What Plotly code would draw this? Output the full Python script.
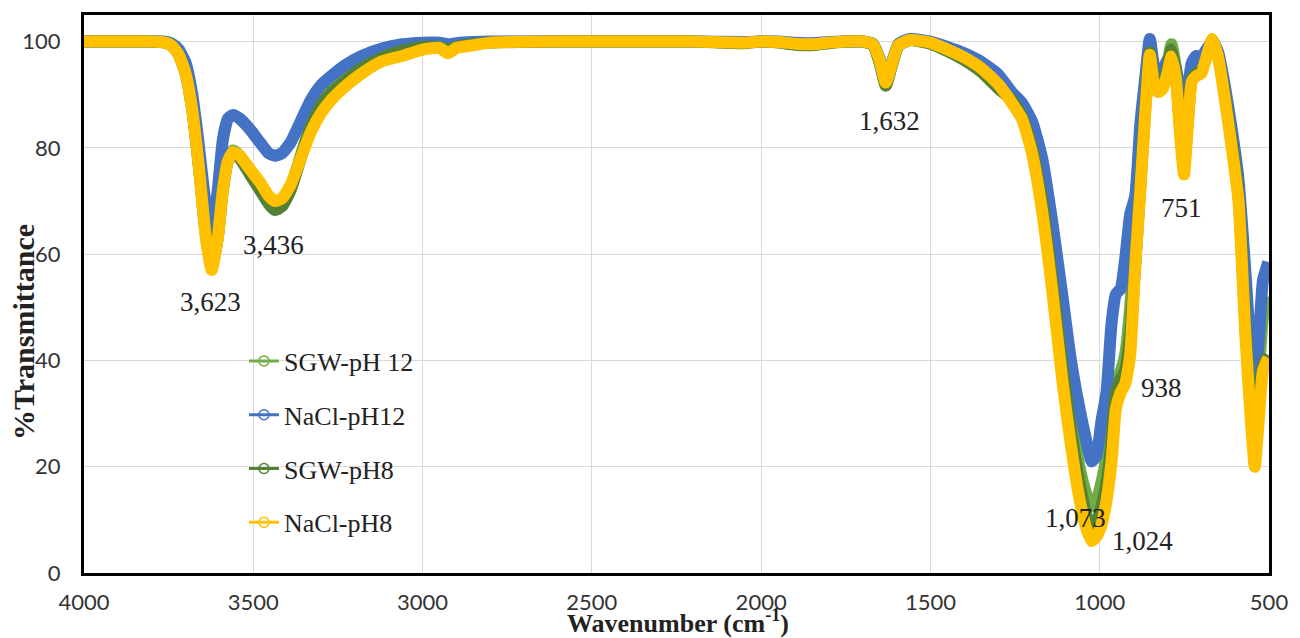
import plotly.graph_objects as go

# Wavenumber grid (cm-1), shared by all four spectra
wavenumber = [
    4000, 3800, 3760, 3740, 3720, 3700, 3680, 3660, 3640, 3623,
    3605, 3590, 3575, 3560, 3540, 3510, 3480, 3455, 3436, 3415,
    3390, 3360, 3330, 3300, 3270, 3230, 3180, 3120, 3060, 3000,
    2950, 2925, 2900, 2850, 2800, 2600, 2400, 2200, 2050, 2000,
    1950, 1900, 1850, 1800, 1750, 1700,
    1670, 1650, 1632, 1615, 1595, 1560, 1500, 1450, 1400, 1350, 1300,
    1260, 1230, 1200, 1170, 1140, 1110, 1085, 1060, 1040, 1024,
    1010, 995, 980, 965, 952, 938, 925, 910, 895, 880, 865, 852,
    840, 828, 815, 800, 788, 775, 762, 751, 740, 728,
    715, 700, 685, 667, 650, 630, 610, 590, 570, 555,
    542, 530, 518, 502,
]

# %Transmittance of each sample
sgw_ph12 = [
    100, 100, 99.9, 99.3, 97.8, 94.5, 88, 77.5, 65, 58.5,
    64.5, 73, 78, 79.5, 78.5, 75.5, 72.5, 70, 69, 69.5,
    72.5, 78.5, 84.5, 88.5, 90.8, 93, 95.3, 97.3, 98.5, 99.2,
    99.3, 99, 99.3, 99.6, 99.9, 100, 100, 100, 99.8, 100,
    99.9, 99.5, 99.4, 99.8, 100, 100,
    99.4, 96.2, 92, 95.3, 99.2, 100.3, 99.7, 98.3, 96.7, 94.6, 91.5,
    89.5, 86.5, 81, 72, 57, 41, 30, 20, 15, 12.5,
    13.5, 17, 22, 30, 36, 38, 41, 50, 64, 78, 91, 99,
    94, 92, 92.5, 96, 99.5, 95, 86, 80, 87, 94,
    95, 95.5, 97.5, 100.3, 97.5, 90.5, 82, 72, 50, 36,
    32, 38, 48, 52,
]

nacl_ph12 = [
    100, 100, 100, 99.6, 98.5, 96, 90, 80, 69, 64,
    72, 81.5, 85.5, 86.2, 85.5, 83.5, 81, 79, 78.5, 79,
    81, 85, 89, 91.8, 93.5, 95.5, 97.3, 98.7, 99.5, 99.8,
    99.8, 99.5, 99.7, 99.9, 100, 100, 100, 100, 99.9, 100,
    100, 99.8, 99.7, 99.9, 100, 100,
    99.6, 96.8, 92.8, 95.8, 99.5, 100.5, 100, 99, 97.8, 96.2, 93.8,
    90.5, 88.5, 85, 78, 66, 52, 40, 31, 25, 21,
    22, 28.5, 34, 47, 52.5, 53.5, 59, 67.5, 71, 84.5, 93.5, 100.5,
    95.5, 93.5, 94.5, 96.5, 97, 95, 90, 87, 91, 96,
    97.3, 97, 98.5, 100, 98, 91.5, 83.5, 74, 57, 43,
    38, 44, 55, 58.5,
]

sgw_ph8 = [
    100, 100, 99.8, 99.2, 97.5, 94, 87, 76, 63.5, 57.5,
    63, 72, 77.5, 79, 78, 75, 72, 69.5, 68.3, 69,
    72, 78, 84, 88, 90.3, 92.5, 95, 97, 98.3, 99,
    99, 98.5, 99, 99.5, 99.8, 100, 100, 100, 99.7, 100,
    99.8, 99.4, 99.3, 99.7, 100, 100,
    99.4, 96, 91.7, 95.2, 99.2, 100.3, 99.6, 98.2, 96.5, 94.3, 91.2,
    89, 86, 80, 70, 55, 39, 27, 17, 11, 8.3,
    9.5, 12.5, 17, 25, 34, 36.5, 38, 45, 58, 73, 88, 98,
    93, 91, 91.5, 95, 98.5, 94, 83, 76.5, 85, 93,
    94, 94.5, 97, 100.4, 97.2, 89.8, 81, 71, 47, 32,
    25, 33, 39, 41,
]

nacl_ph8 = [
    100, 100, 99.8, 99.2, 97.5, 94, 87, 76, 63, 57,
    63, 72, 77.5, 79.2, 78.5, 76, 73.5, 71, 70, 70.5,
    73, 78, 83, 86.5, 89, 91.5, 94, 96.3, 97.3, 98.5,
    98.8, 97.8, 98.8, 99.3, 99.8, 100, 100, 100, 99.8, 100,
    99.9, 99.6, 99.5, 99.8, 100, 100,
    99.5, 96.5, 92.3, 95.5, 99.3, 100.3, 99.8, 98.5, 97, 95, 92,
    88.5, 85.5, 79, 68, 53, 36, 24, 14, 8.5, 6,
    6.8, 9, 13.6, 21, 31, 34, 35.5, 41, 58, 72, 87, 97.5,
    92, 90.5, 91, 94, 97.2, 93, 82, 75, 84, 92.5,
    93.5, 94, 97, 100.5, 97, 89, 80, 70, 45, 30,
    20, 29, 38, 40.5,
]

series_names = ["SGW-pH 12", "NaCl-pH12", "SGW-pH8", "NaCl-pH8"]
series_values = [sgw_ph12, nacl_ph12, sgw_ph8, nacl_ph8]
series_colors = ["#70AD47", "#4472C4", "#548235", "#FFC000"]

# Band assignments written on the spectrum: (text, x in cm-1, y in %T)
peak_labels = ["3,623", "3,436", "1,632", "751", "938", "1,073", "1,024"]
label_x = [3627, 3440, 1620, 757, 818, 1072, 873]
label_y = [51.0, 61.7, 85.0, 68.6, 34.8, 10.3, 6.0]

for vals in series_values:
    assert len(vals) == len(wavenumber)

fig = go.Figure()

# Thick spectral bands
for name, vals, color in zip(series_names, series_values, series_colors):
    fig.add_trace(go.Scatter(
        x=wavenumber, y=vals, name=name, mode="lines",
        line=dict(color=color, width=12, shape="spline", smoothing=0.5),
        showlegend=False, hoverinfo="x+y+name",
    ))

# Legend entries: thin line with an open circle marker
for i, (name, color) in enumerate(zip(series_names, series_colors)):
    fig.add_trace(go.Scatter(
        x=[None], y=[None], name=name, mode="lines+markers",
        line=dict(color=color, width=3),
        marker=dict(symbol="circle-open", size=10, color=color,
                    line=dict(width=1.5, color=color)),
        legendgroup=f"g{i}", showlegend=True,
    ))

serif = "Liberation Serif, Times New Roman, serif"
sans = "Lato, Carlito, Open Sans, sans-serif"

for txt, lx, ly in zip(peak_labels, label_x, label_y):
    fig.add_annotation(
        x=lx, y=ly, text=txt, showarrow=False,
        font=dict(family=serif, size=27, color="#222222"),
        xanchor="center", yanchor="middle",
    )

# Axis titles
fig.add_annotation(
    xref="paper", yref="paper", x=-0.051, y=0.431,
    text="<b>%Transmittance</b>", textangle=-90, showarrow=False,
    font=dict(family=serif, size=30, color="#222222"),
    xanchor="center", yanchor="middle",
)
fig.add_annotation(
    xref="paper", yref="paper", x=0.501, y=-0.087,
    text="<b>Wavenumber (cm<sup>-1</sup>)</b>", showarrow=False,
    font=dict(family=serif, size=26, color="#222222"),
    xanchor="center", yanchor="middle",
)

fig.update_xaxes(
    range=[4000, 500], dtick=500, tick0=0,
    showgrid=True, gridcolor="#D9D9D9", gridwidth=1,
    showline=True, linecolor="black", linewidth=3, mirror=True,
    ticks="", ticklabelstandoff=8, zeroline=False,
    ticklabeloverflow="allow",
    tickfont=dict(family=sans, size=22, color="#333333"),
)
fig.update_yaxes(
    range=[0, 105], tickvals=[0, 20, 40, 60, 80, 100],
    showgrid=True, gridcolor="#D9D9D9", gridwidth=1,
    showline=True, linecolor="black", linewidth=3, mirror=True,
    ticks="", ticklabelstandoff=16, zeroline=False,
    tickfont=dict(family=sans, size=22, color="#333333"),
)

fig.update_layout(
    width=1300, height=638,
    margin=dict(l=84, r=23, t=12, b=65),
    plot_bgcolor="white", paper_bgcolor="white",
    legend=dict(
        x=0.135, y=0.422, xanchor="left", yanchor="top",
        bgcolor="rgba(0,0,0,0)", traceorder="grouped", tracegroupgap=17,
        font=dict(family=serif, size=26, color="#222222"),
    ),
)

fig.write_html("out.html")
